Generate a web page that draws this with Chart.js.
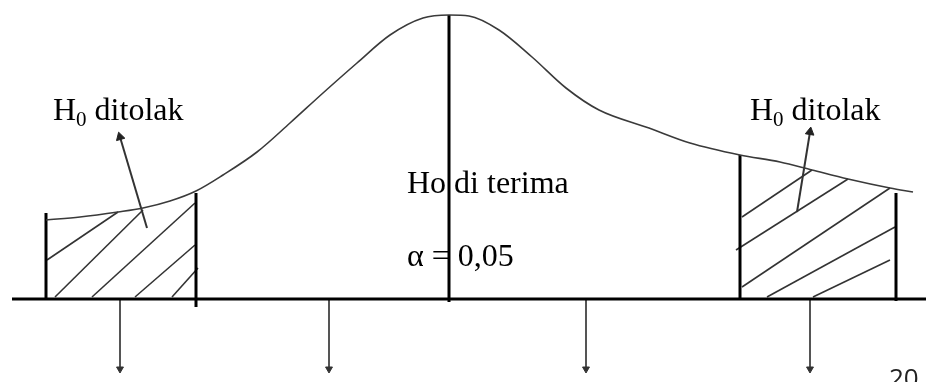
<!DOCTYPE html>
<html>
<head>
<meta charset="utf-8">
<script src="https://cdn.jsdelivr.net/npm/chart.js@4.4.0/dist/chart.umd.min.js"></script>
<style>
  body { margin: 0; background: #fff; }
  #wrap { width: 926px; height: 382px; }
</style>
</head>
<body>
<div id="wrap"><canvas id="curve"></canvas></div>
<script>
// curve (x position, height above the baseline)
const curveX = [46, 80, 118, 143, 170, 196, 223, 257, 290, 323, 357, 390, 423, 449, 469, 499, 532, 566, 599, 649, 690, 740, 780, 812, 848, 890, 913];
const curveY = [79, 82, 87, 91, 98, 108, 124, 147, 176, 206, 236, 264, 281, 284, 283, 269, 242, 211, 189, 171, 156, 144, 137, 129, 120, 111, 107];

// rejection region borders
const borderX = [46, 196, 740, 896];
const borderLow = [0, -8, 0, -2];
const borderHigh = [86, 106, 144, 106];

// hatch strokes
const hatchX1 = [47, 55, 92, 135, 172, 742, 736, 742, 767, 813];
const hatchY1 = [39, 2, 2, 2, 2, 82, 49, 12, 2, 2];
const hatchX2 = [118, 143, 195, 195, 198, 812, 848, 890, 895, 890];
const hatchY2 = [87, 89, 96, 54, 31, 129, 120, 111, 72, 39];

// arrows under the axis
const downX = [120, 329, 586, 810];

// arrows from labels
const pointerFrom = [[147, 71], [797, 87]];
const pointerTo = [[120, 162], [810, 167]];
const pointerAngle = [-16, 9];

const axisX = [12, 926];
const centerX = 449;
const peak = 284;

const datasets = [];
const line = (pts, color, width, extra) => {
    datasets.push(Object.assign({
        data: pts,
        showLine: true,
        borderColor: color,
        borderWidth: width,
        pointRadius: 0,
        fill: false,
    }, extra || {}));
};

line(curveX.map((x, i) => ({ x: x, y: curveY[i] })), "#3a3a3a", 1.6, { cubicInterpolationMode: "monotone" });
line([{ x: axisX[0], y: 0 }, { x: axisX[1], y: 0 }], "#000", 3);
line([{ x: centerX, y: -3 }, { x: centerX, y: peak }], "#000", 3);
for (let i = 0; i < borderX.length; i++) {
    line([{ x: borderX[i], y: borderLow[i] }, { x: borderX[i], y: borderHigh[i] }], "#000", 3);
}
for (let i = 0; i < hatchX1.length; i++) {
    line([{ x: hatchX1[i], y: hatchY1[i] }, { x: hatchX2[i], y: hatchY2[i] }], "#333", 1.6);
}
for (let i = 0; i < downX.length; i++) {
    line([{ x: downX[i], y: -1 }, { x: downX[i], y: -70 }], "#555", 2, {
        pointRadius: [0, 4],
        pointStyle: "triangle",
        rotation: 180,
        pointBackgroundColor: "#333",
        pointBorderColor: "#333",
        pointBorderWidth: 1,
    });
}
for (let i = 0; i < pointerFrom.length; i++) {
    line([{ x: pointerFrom[i][0], y: pointerFrom[i][1] }, { x: pointerTo[i][0], y: pointerTo[i][1] }], "#333", 2, {
        pointRadius: [0, 5],
        pointStyle: "triangle",
        rotation: pointerAngle[i],
        pointBackgroundColor: "#222",
        pointBorderColor: "#222",
        pointBorderWidth: 1,
    });
}

const labels = {
    id: "labels",
    afterDraw(chart) {
        const ctx = chart.ctx;
        const sx = chart.scales.x, sy = chart.scales.y;
        ctx.save();
        ctx.fillStyle = "#000";
        ctx.textBaseline = "alphabetic";
        const serif = "'Liberation Serif', 'Times New Roman', serif";

        const ditolak = (x, y) => {
            let px = sx.getPixelForValue(x), py = sy.getPixelForValue(y);
            ctx.font = "32px " + serif;
            ctx.fillText("H", px, py);
            px += ctx.measureText("H").width;
            ctx.font = "21px " + serif;
            ctx.fillText("0", px, py + 6);
            px += ctx.measureText("0").width;
            ctx.font = "32px " + serif;
            ctx.fillText(" ditolak", px, py);
        };
        ditolak(53, 179);
        ditolak(750, 179);

        ctx.font = "32px " + serif;
        ctx.fillText("Ho di terima", sx.getPixelForValue(407), sy.getPixelForValue(106));
        ctx.fillText("\u03b1 = 0,05", sx.getPixelForValue(407), sy.getPixelForValue(33));

        ctx.font = "26px 'Open Sans', 'DejaVu Sans', sans-serif";
        ctx.fillStyle = "#222";
        ctx.fillText("20", sx.getPixelForValue(889), sy.getPixelForValue(-88));
        ctx.restore();
    },
};

new Chart(document.getElementById("curve").getContext("2d"), {
    type: "scatter",
    data: { datasets: datasets },
    options: {
        responsive: true,
        maintainAspectRatio: false,
        animation: false,
        layout: { padding: 0, autoPadding: false },
        plugins: { legend: { display: false }, tooltip: { enabled: false } },
        scales: {
            x: { type: "linear", min: 0, max: 926, display: false },
            y: { type: "linear", min: -83, max: 299, display: false },
        },
    },
    plugins: [labels],
});
</script>
</body>
</html>
